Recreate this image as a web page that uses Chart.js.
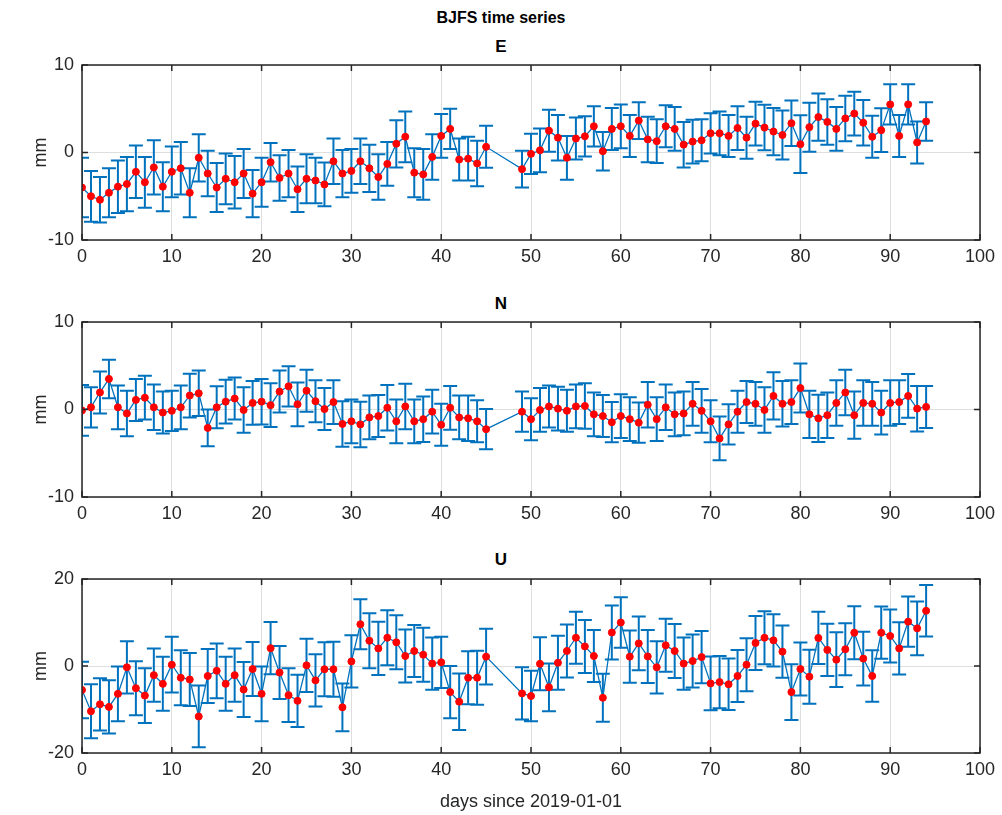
<!DOCTYPE html>
<html>
<head>
<meta charset="utf-8">
<script src="https://cdn.jsdelivr.net/npm/chart.js@4.4.1/dist/chart.umd.min.js"></script>
<style>
  body { margin: 0; background: #fff; width: 1002px; height: 815px; overflow: hidden; position: relative; font-family: "Liberation Sans", Arial, sans-serif; }
  canvas { position: absolute; left: 0; }
  .ttl { position: absolute; left: 0; width: 1002px; text-align: center; font-weight: bold; color: #000; line-height: 20px; }
</style>
</head>
<body>
<div class="ttl" style="top:8px;font-size:16px;">BJFS time series</div>
<div class="ttl" style="top:37px;font-size:17px;">E</div>
<div class="ttl" style="top:294px;font-size:17px;">N</div>
<div class="ttl" style="top:550px;font-size:17px;">U</div>
<canvas id="chartE" width="1002" height="275" style="top:0px"></canvas>
<canvas id="chartN" width="1002" height="275" style="top:257px"></canvas>
<canvas id="chartU" width="1002" height="301" style="top:514px"></canvas>
<script>
// days with a solution (46-48 missing)
var days = [0,1,2,3,4,5,6,7,8,9,10,11,12,13,14,15,16,17,18,19,20,21,22,23,24,25,26,27,28,29,30,
  31,32,33,34,35,36,37,38,39,40,41,42,43,44,45,
  49,50,51,52,53,54,55,56,57,58,59,60,61,62,63,64,65,66,67,68,69,70,71,72,73,74,75,76,77,78,79,80,
  81,82,83,84,85,86,87,88,89,90,91,92,93,94];

// east (mm)
var eastVals = [-4.0,-5.0,-5.4,-4.6,-3.9,-3.6,-2.2,-3.4,-1.7,-3.9,-2.2,-1.8,-4.6,-0.6,-2.4,-4.0,-3.0,-3.4,-2.4,-4.7,
  -3.4,-1.1,-2.9,-2.4,-4.2,-3.0,-3.2,-3.65,-1.0,-2.4,-2.1,-1.0,-1.8,-2.8,-1.3,1.0,1.8,-2.3,-2.5,-0.5,
  1.9,2.7,-0.8,-0.7,-1.25,0.65,
  -1.9,-0.15,0.25,2.5,1.7,-0.6,1.6,1.85,3.0,0.15,2.7,3.0,1.9,3.65,1.5,1.3,3.0,2.7,0.9,1.25,
  1.4,2.2,2.2,1.9,2.8,1.7,3.3,2.85,2.4,2.0,3.35,0.95,2.9,4.05,3.5,2.7,3.9,4.45,3.4,1.8,
  2.55,5.5,1.9,5.5,1.15,3.55];
var eastErr = [3.4,2.9,2.6,2.8,3.0,3.1,3.0,2.9,3.1,2.8,2.9,3.0,2.8,2.7,2.6,2.8,2.9,3.0,2.8,2.7,
  2.8,2.2,2.6,2.7,2.6,2.8,2.6,2.5,2.6,2.7,2.5,2.6,2.7,2.6,2.5,2.7,2.9,2.8,2.9,2.6,
  2.5,2.3,2.4,2.5,2.6,2.4,
  2.1,2.3,2.5,2.4,2.6,2.5,2.4,2.3,2.3,2.2,2.4,2.5,2.4,2.1,2.6,2.5,2.4,2.5,2.6,2.5,
  2.4,2.3,2.5,2.4,2.5,2.4,2.5,2.6,2.7,2.8,2.6,3.3,2.8,2.7,2.6,2.5,2.6,2.5,2.6,2.4,
  2.5,2.3,2.4,2.3,2.4,2.2];

// north (mm)
var northVals = [-0.1,0.25,1.95,3.5,0.25,-0.45,1.1,1.35,0.25,-0.35,-0.15,0.25,1.6,1.85,-2.1,0.25,0.9,1.25,-0.05,0.75,
  0.9,0.5,2.05,2.65,0.6,2.15,0.95,0.05,0.85,-1.65,-1.35,-1.7,-0.9,-0.75,0.2,-1.35,0.35,-1.35,-1.1,-0.25,
  -1.75,0.2,-0.9,-1.0,-1.35,-2.25,
  -0.25,-1.1,-0.05,0.35,0.1,-0.15,0.35,0.4,-0.55,-0.75,-1.45,-0.75,-1.1,-1.5,0.55,-1.1,0.25,-0.55,-0.45,0.65,
  -0.15,-1.35,-3.3,-1.7,-0.25,0.85,0.65,-0.05,1.55,0.65,0.85,2.45,-0.55,-1.0,-0.65,0.75,1.95,-0.65,0.75,0.65,
  -0.35,0.75,0.85,1.55,0.1,0.3];
var northErr = [2.9,2.3,2.4,2.2,2.5,2.6,2.4,2.5,2.6,2.4,2.3,2.5,2.5,2.6,2.1,2.4,2.5,2.4,2.6,2.5,
  2.6,2.5,2.4,2.3,2.5,2.4,2.4,2.4,2.5,2.6,2.5,2.6,2.5,2.4,2.6,2.5,2.6,2.5,2.6,2.5,
  2.4,2.5,2.5,2.6,2.4,2.3,
  2.3,2.4,2.5,2.4,2.5,2.4,2.5,2.6,2.5,2.4,2.3,2.5,2.5,2.3,2.6,2.5,2.6,2.5,2.5,2.5,
  2.5,2.4,2.5,2.3,2.4,2.4,2.5,2.6,2.7,2.6,2.5,2.8,2.7,2.7,2.6,2.6,2.6,2.7,2.6,2.5,
  2.5,2.6,2.5,2.5,2.6,2.4];

// up (mm)
var upVals = [-5.5,-10.4,-8.8,-9.4,-6.4,-0.3,-5.1,-6.8,-2.1,-4.1,0.3,-2.7,-3.1,-11.6,-2.3,-1.1,-4.1,-2.1,-5.4,-0.7,
  -6.4,4.1,-1.5,-6.7,-8.0,0.15,-3.3,-0.75,-0.75,-9.5,1.05,9.6,5.8,4.05,6.5,5.45,2.3,3.45,2.6,0.55,
  0.85,-6.0,-8.2,-2.7,-2.7,2.15,
  -6.3,-6.9,0.5,-4.9,0.75,3.45,6.5,4.5,2.3,-7.3,7.7,10.0,2.15,5.2,2.2,-0.3,4.75,3.45,0.55,1.15,
  2.05,-4.0,-3.7,-4.2,-2.3,0.3,5.3,6.5,5.9,3.3,-6.0,-0.7,-2.45,6.45,3.7,1.45,3.85,7.65,1.7,-2.3,
  7.65,6.9,4.05,10.2,8.65,12.7];
var upErr = [6.5,6.2,6.0,6.1,6.3,6.0,6.2,6.3,6.1,6.2,6.4,6.3,6.1,7.1,6.2,6.3,6.2,6.1,6.3,6.2,
  6.3,6.0,6.1,6.2,6.0,6.1,6.0,6.2,6.3,5.5,6.0,5.75,6.3,6.1,6.3,6.2,6.1,6.0,6.2,6.0,
  5.9,6.0,6.5,6.1,6.2,6.4,
  6.0,5.8,6.1,5.5,6.2,6.1,6.0,6.1,6.0,5.5,6.2,5.8,6.0,6.2,6.1,6.0,6.1,6.2,6.0,6.1,
  6.0,6.2,6.0,5.9,6.0,6.1,6.2,6.1,6.0,6.0,6.4,6.1,6.2,6.0,6.0,6.3,6.0,6.1,6.2,5.9,
  6.0,6.1,6.0,5.8,6.2,5.9];

var xTicks = [0,10,20,30,40,50,60,70,80,90,100];

var blue = '#0072BD';
var axisColor = '#262626';
var gridColor = '#dedede';
var fontFamily = '"Liberation Sans", Arial, sans-serif';

function makePoints(vals, errs) {
    var pts = [];
    for (let i = 0; i < days.length; i++) {
        pts.push({x: days[i], y: vals[i], err: errs[i]});
    }
    return pts;
}

// vertical bars with caps, drawn under the line
const errorBars = {
    id: 'errorBars',
    beforeDatasetsDraw(chart) {
        const ctx = chart.ctx;
        const x = chart.scales.x, y = chart.scales.y;
        const area = chart.chartArea;
        const pts = chart.data.datasets[0].data;
        ctx.save();
        ctx.beginPath();
        ctx.rect(area.left, area.top, area.right - area.left, area.bottom - area.top);
        ctx.clip();
        ctx.strokeStyle = blue;
        ctx.lineWidth = 2;
        ctx.beginPath();
        pts.forEach(p => {
            const px = x.getPixelForValue(p.x);
            const hi = y.getPixelForValue(p.y + p.err);
            const lo = y.getPixelForValue(p.y - p.err);
            ctx.moveTo(px, hi); ctx.lineTo(px, lo);
            ctx.moveTo(px - 7, hi); ctx.lineTo(px + 7, hi);
            ctx.moveTo(px - 7, lo); ctx.lineTo(px + 7, lo);
        });
        ctx.stroke();
        ctx.restore();
    }
};

// matlab style box with inward ticks
const axesBox = {
    id: 'axesBox',
    afterDraw(chart) {
        const ctx = chart.ctx;
        const a = chart.chartArea;
        const x = chart.scales.x, y = chart.scales.y;
        ctx.save();
        ctx.strokeStyle = axisColor;
        ctx.lineWidth = 1.5;
        ctx.strokeRect(a.left, a.top, a.right - a.left, a.bottom - a.top);
        ctx.beginPath();
        x.ticks.forEach(t => {
            const px = x.getPixelForValue(t.value);
            ctx.moveTo(px, a.bottom); ctx.lineTo(px, a.bottom - 6);
            ctx.moveTo(px, a.top); ctx.lineTo(px, a.top + 6);
        });
        y.ticks.forEach(t => {
            const py = y.getPixelForValue(t.value);
            ctx.moveTo(a.left, py); ctx.lineTo(a.left + 6, py);
            ctx.moveTo(a.right, py); ctx.lineTo(a.right - 6, py);
        });
        ctx.stroke();
        ctx.restore();
    }
};

function makeChart(id, vals, errs, yMax, xAxisHeight, xTitle) {
    var ctx = document.getElementById(id).getContext('2d');
    return new Chart(ctx, {
        type: 'line',
        data: {
            datasets: [{
                data: makePoints(vals, errs),
                borderColor: blue,
                borderWidth: 1.3,
                pointRadius: 3.5,
                pointBackgroundColor: '#ff0000',
                pointBorderColor: '#ff0000',
                pointBorderWidth: 1,
                tension: 0
            }]
        },
        options: {
            responsive: false,
            animation: false,
            devicePixelRatio: 1,
            layout: { padding: { top: 65, right: 22, bottom: 0, left: 0 } },
            plugins: { legend: { display: false }, tooltip: { enabled: false } },
            scales: {
                x: {
                    type: 'linear',
                    min: 0,
                    max: 100,
                    afterBuildTicks: (s) => { s.ticks = xTicks.map(v => ({value: v})); },
                    afterFit: (s) => { s.height = xAxisHeight; },
                    grid: { color: gridColor, lineWidth: 1, drawTicks: false },
                    border: { display: false },
                    ticks: { color: axisColor, padding: 6, maxRotation: 0, font: { family: fontFamily, size: 18 } },
                    title: {
                        display: !!xTitle,
                        text: xTitle || '',
                        color: axisColor,
                        padding: { top: 0, bottom: 2 },
                        font: { family: fontFamily, size: 18 }
                    }
                },
                y: {
                    min: -yMax,
                    max: yMax,
                    afterBuildTicks: (s) => { s.ticks = [-yMax, 0, yMax].map(v => ({value: v})); },
                    afterFit: (s) => { s.width = 82; },
                    grid: { color: gridColor, lineWidth: 1, drawTicks: false },
                    border: { display: false },
                    ticks: { color: axisColor, padding: 8, font: { family: fontFamily, size: 18 } },
                    title: {
                        display: true,
                        text: 'mm',
                        color: axisColor,
                        padding: { top: 30, bottom: 0 },
                        font: { family: fontFamily, size: 18 }
                    }
                }
            }
        },
        plugins: [errorBars, axesBox]
    });
}

var eastChart = makeChart('chartE', eastVals, eastErr, 10, 35, null);
var northChart = makeChart('chartN', northVals, northErr, 10, 35, null);
var upChart = makeChart('chartU', upVals, upErr, 20, 62, 'days since 2019-01-01');
</script>
</body>
</html>
